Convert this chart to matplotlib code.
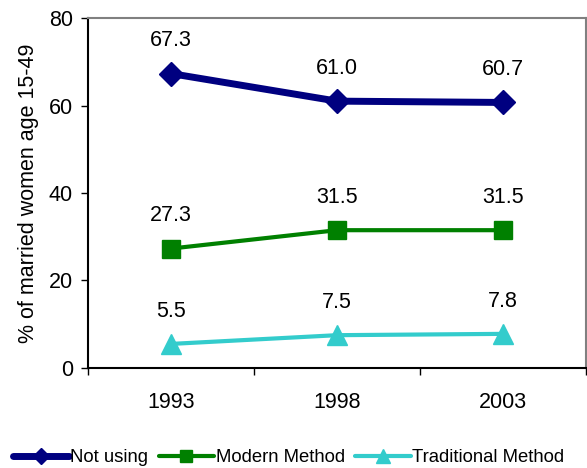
import numpy as np
import matplotlib.pyplot as plt

plt.rcParams['font.family'] = ['Liberation Sans', 'DejaVu Sans']

years = ['1993', '1998', '2003']
not_using = [67.3, 61.0, 60.7]
modern = [27.3, 31.5, 31.5]
traditional = [5.5, 7.5, 7.8]

series = [
    ('Not using', not_using, '#000080', 'D', 12, 5),
    ('Modern Method', modern, '#008000', 's', 13, 3),
    ('Traditional Method', traditional, '#33CCCC', '^', 14, 3),
]

fig = plt.figure(figsize=(5.87, 4.68), dpi=100)
ax = fig.add_axes([0.150, 0.2137, 0.848, 0.7478])

x = np.arange(1, len(years) + 1)
for name, vals, col, mk, ms, lw in series:
    ax.plot(x, vals, color=col, marker=mk, markersize=ms, linewidth=lw,
            label=name, solid_joinstyle='round', solid_capstyle='round')
    for xi, v in zip(x, vals):
        ax.annotate(f'{v:.1f}', (xi, v), xytext=(0, 23.5), textcoords='offset points',
                    ha='center', va='center', fontsize=15.5)

ax.set_xlim(0.5, len(years) + 0.5)
ax.set_ylim(0, 80)
ax.set_yticks([0, 20, 40, 60, 80])
ax.tick_params(axis='y', direction='out', length=5, width=1, pad=6, labelsize=15.5)

# category boundaries get the tick marks, labels sit in between
ax.set_xticks(np.arange(0.5, len(years) + 1, 1.0))
ax.set_xticklabels([])
ax.set_xticks(x, minor=True)
ax.set_xticklabels(years, minor=True)
ax.tick_params(axis='x', which='major', direction='out', length=5, width=1)
ax.tick_params(axis='x', which='minor', length=0, pad=17, labelsize=15.5)

ax.set_ylabel('% of married women age 15-49', fontsize=15.5, labelpad=7)

for side in ['top', 'right']:
    ax.spines[side].set_color('#808080')
    ax.spines[side].set_linewidth(1.5)
for side in ['left', 'bottom']:
    ax.spines[side].set_color('black')
    ax.spines[side].set_linewidth(1.5)

fig.legend(loc='center', bbox_to_anchor=(0.492, 0.022), ncol=3, frameon=False,
           fontsize=13.3, handlelength=3.0, handletextpad=0.1, columnspacing=0.55,
           markerscale=0.7, borderaxespad=0, borderpad=0)

fig.savefig('out.png', dpi=100)
